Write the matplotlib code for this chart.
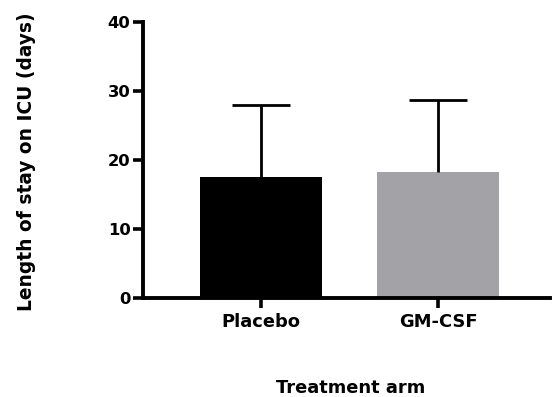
import matplotlib
matplotlib.use("Agg")
import matplotlib.pyplot as plt

categories = ["Placebo", "GM-CSF"]
means = [17.6, 18.3]
sd_upper = [10.4, 10.4]
bar_colors = ["#000000", "#a3a2a6"]
y_ticks = [0, 10, 20, 30, 40]

plt.rcParams["font.family"] = ["DejaVu Sans"]
plt.rcParams["font.weight"] = "bold"

fig = plt.figure(figsize=(5.52, 3.97), dpi=100)
ax = fig.add_axes([143 / 552, 1 - 298 / 397, (550 - 143) / 552, (298 - 22) / 397])

x = list(range(len(categories)))
ax.bar(x, means, width=0.69, color=bar_colors, zorder=2)
_, caps, _ = ax.errorbar(x, means, yerr=[[0] * len(means), sd_upper], fmt="none",
                         ecolor="black", elinewidth=2.0, capsize=21, capthick=2.0,
                         zorder=3)
# only the upper cap is shown (one-sided SD)
caps[0].set_visible(False)

ax.set_xlim(-0.667, 1.633)
ax.set_ylim(0, 40)
ax.set_yticks(y_ticks)
ax.set_xticks(x)
ax.set_xticklabels(categories)

for side in ("top", "right"):
    ax.spines[side].set_visible(False)
for side in ("left", "bottom"):
    ax.spines[side].set_linewidth(2.8)
    ax.spines[side].set_capstyle("projecting")

ax.tick_params(axis="both", width=2.6, length=7, pad=2)
ax.tick_params(axis="y", labelsize=11.8)
ax.tick_params(axis="x", labelsize=12.9, pad=4)
for lbl in ax.get_xticklabels() + ax.get_yticklabels():
    lbl.set_fontweight("bold")

fig.text(27 / 552, 1 - 162 / 397, "Length of stay on ICU (days)", rotation=90,
         ha="center", va="center", fontsize=13.4, fontweight="bold")
fig.text(351 / 552, 1 - 388 / 397, "Treatment arm",
         ha="center", va="center", fontsize=12.9, fontweight="bold")

fig.savefig("out.png", dpi=100)
